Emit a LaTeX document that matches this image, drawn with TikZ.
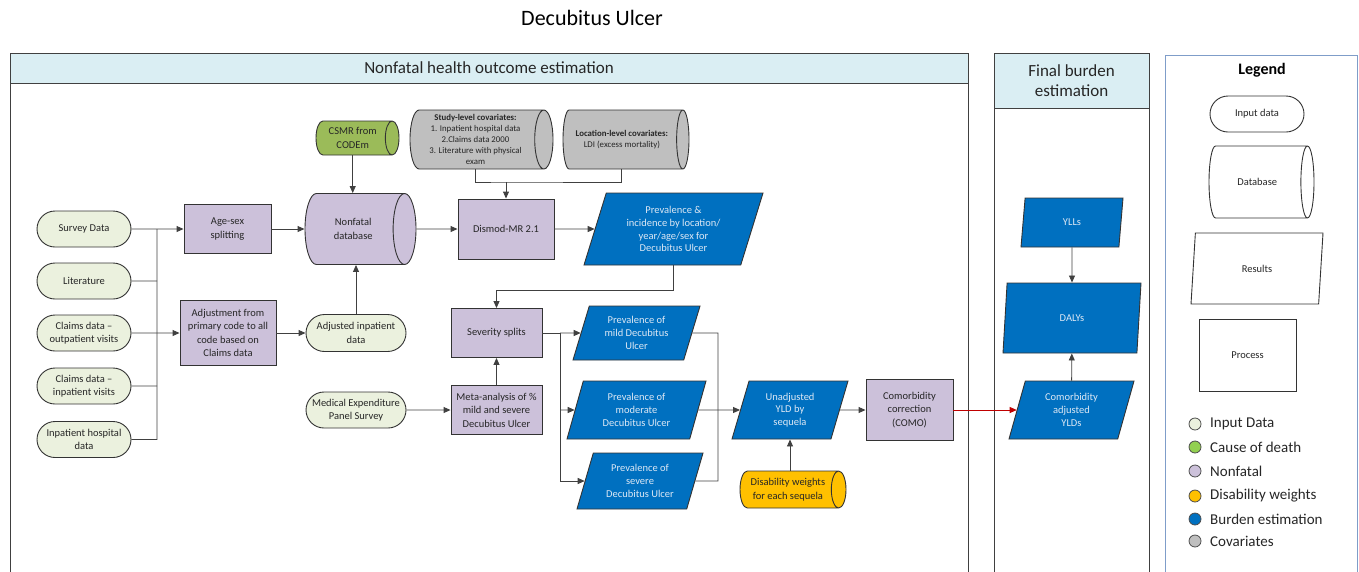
\documentclass[tikz,border=0pt]{standalone}
\usepackage{fontspec}
\setmainfont{Carlito}
\usepackage{tikz}
\usetikzlibrary{shapes.geometric,shapes.misc,arrows.meta}

\definecolor{inputgreen}{HTML}{EBF1DE}
\definecolor{codgreen}{HTML}{9BBB59}
\definecolor{deathgreen}{HTML}{92D050}
\definecolor{nonfatal}{HTML}{CCC1DA}
\definecolor{dwyellow}{HTML}{FFC000}
\definecolor{burdenblue}{HTML}{0070C0}
\definecolor{covgray}{HTML}{BFBFBF}
\definecolor{headerblue}{HTML}{DAEEF3}
\definecolor{legendframe}{HTML}{7F9DC9}
\definecolor{bluetext}{HTML}{DDE8F5}
\definecolor{inktext}{HTML}{262626}
\definecolor{comored}{HTML}{C00000}

\tikzset{
  box/.style={font=\fontsize{10.5}{13.5}\selectfont, text=inktext, align=center, draw=black!80, line width=0.9pt, inner sep=1pt},
  inputdata/.style={box, rounded rectangle, fill=inputgreen, minimum width=96pt, minimum height=36pt},
  process/.style={box, rectangle, fill=nonfatal},
  database/.style={box, cylinder, shape aspect=0.6, anchor=shape center},
  result/.style={box, trapezium, trapezium left angle=65, trapezium right angle=115, trapezium stretches body, fill=burdenblue, text=bluetext, font=\fontsize{10.5}{12.8}\selectfont},
  conn/.style={draw=black!75, line width=0.9pt},
  arr/.style={conn, -{Triangle[length=7pt,width=6pt]}},
  legdot/.style={circle, draw=black!70, line width=0.8pt, minimum size=12pt, inner sep=0pt},
  legtext/.style={anchor=west, font=\fontsize{15}{18}\selectfont, text=inktext, inner sep=0pt},
  panel/.style={draw=black!75, line width=1pt}
}

\begin{document}
\begin{tikzpicture}[x=1pt, y=-1pt]
\useasboundingbox (0,0) rectangle (1359,571);

% Title
\node[font=\fontsize{22}{26}\selectfont, text=black] (title) at (592,18) {Decubitus Ulcer};

% Panels
\draw[panel] (10,53) rectangle (968,590);
\draw[panel, fill=headerblue] (10,53) rectangle (968,83);
\node[font=\fontsize{17}{20}\selectfont, text=inktext] (nfhead) at (489,68) {Nonfatal health outcome estimation};
\draw[panel] (994,53) rectangle (1149,590);
\draw[panel, fill=headerblue] (994,53) rectangle (1149,108);
\node[font=\fontsize{17}{19.5}\selectfont, text=inktext, align=center] (fbhead) at (1071.5,80.5) {Final burden\\estimation};
\draw[legendframe, line width=1pt] (1165,55) rectangle (1357.5,590);
\node[font=\fontsize{16}{19}\selectfont\bfseries, text=black] (leghead) at (1262,70) {Legend};

% Input data
\node[inputdata] (survey) at (84,229) {Survey Data};
\node[inputdata] (lit) at (84,281) {Literature};
\node[inputdata] (claimsout) at (84,333) {Claims data --\\outpatient visits};
\node[inputdata] (claimsin) at (84,386) {Claims data --\\inpatient visits};
\node[inputdata] (inhosp) at (84,439.5) {Inpatient hospital\\data};

% Processing of inputs
\node[process, minimum width=87pt, minimum height=49pt] (agesex) at (227.5,229) {Age-sex\\splitting};
\node[process, minimum width=96pt, minimum height=65pt] (adjust) at (228,333) {Adjustment from\\primary code to all\\code based on\\Claims data};
\node[inputdata, minimum width=102pt, minimum height=37pt] (adjinp) at (356,333) {Adjusted inpatient\\data};
\node[inputdata, minimum width=102pt] (meps) at (356,410) {Medical Expenditure\\Panel Survey};

% Databases and covariates (cylinder: height is along the axis)
\node[database, fill=codgreen, minimum height=83pt, minimum width=34pt] (csmr) at (357.5,138) {CSMR from\\CODEm};
\node[database, fill=nonfatal, minimum height=111pt, minimum width=71pt, shape aspect=1] (nfdb) at (360.5,229) {Nonfatal\\database};
\node[database, fill=covgray, minimum height=143pt, minimum width=59pt, shape aspect=0.35, font=\fontsize{8.8}{11}\selectfont] (study) at (481.5,139.5) {\textbf{Study-level covariates:}\\1. Inpatient hospital data\\2.Claims data 2000\\3. Literature with physical\\exam};
\node[database, fill=covgray, minimum height=126pt, minimum width=59pt, font=\fontsize{8.8}{11}\selectfont] (loc) at (626,139.5) {\textbf{Location-level covariates:}\\LDI (excess mortality)};

% Modelling
\node[process, minimum width=96pt, minimum height=60pt] (dismod) at (506,229) {Dismod-MR 2.1};
\node[result, minimum width=179pt, minimum height=72pt] (previnc) at (673.5,229) {Prevalence \&\\incidence by location/\\year/age/sex for\\Decubitus Ulcer};
\node[process, minimum width=91pt, minimum height=49pt] (sev) at (496.5,333) {Severity splits};
\node[process, minimum width=91pt, minimum height=49pt] (meta) at (496.5,410) {Meta-analysis of \%\\mild and severe\\Decubitus Ulcer};

% Severity results
\node[result, minimum width=127pt, minimum height=54pt] (mild) at (636.5,333) {Prevalence of\\mild Decubitus\\Ulcer};
\node[result, minimum width=139pt, minimum height=58pt] (moderate) at (636.5,410) {Prevalence of\\moderate\\Decubitus Ulcer};
\node[result, minimum width=126pt, minimum height=56pt] (severe) at (640,481) {Prevalence of\\severe\\Decubitus Ulcer};
\node[result, minimum width=116pt, minimum height=58pt] (unadj) at (790,410) {Unadjusted\\YLD by\\sequela};
\node[database, fill=dwyellow, minimum height=106pt, minimum width=37pt] (dw) at (793,489.5) {Disability weights\\for each sequela};
\node[process, minimum width=87pt, minimum height=61pt] (como) at (909.5,410) {Comorbidity\\correction\\(COMO)};

% Final burden
\node[result, minimum width=102pt, minimum height=49pt] (ylls) at (1072,222.5) {YLLs};
\node[result, minimum width=138pt, minimum height=70pt] (dalys) at (1072,318) {DALYs};
\node[result, minimum width=125pt, minimum height=58pt] (comoyld) at (1071.5,410) {Comorbidity\\adjusted\\YLDs};

% Legend shapes
\node[inputdata, fill=white] (leginput) at (1257,114) {Input data};
\node[database, fill=white, minimum height=105pt, minimum width=72pt, shape aspect=1.4] (legdb) at (1261.5,182) {Database};
\node[result, fill=white, text=inktext, minimum width=132pt, minimum height=71pt] (legres) at (1257,268.5) {Results};
\node[process, fill=white, minimum width=97pt, minimum height=72pt] (legproc) at (1247.5,355) {Process};

% Legend colours
\node[legdot, fill=inputgreen] (dotinput) at (1195,424) {};
\node[legtext] (txtinput) at (1210,424) {Input Data};
\node[legdot, fill=deathgreen] (dotdeath) at (1195,447) {};
\node[legtext] (txtdeath) at (1210,447) {Cause of death};
\node[legdot, fill=nonfatal] (dotnf) at (1195,471) {};
\node[legtext] (txtnf) at (1210,471) {Nonfatal};
\node[legdot, fill=dwyellow] (dotdw) at (1195,496) {};
\node[legtext] (txtdw) at (1210,496) {Disability weights};
\node[legdot, fill=burdenblue] (dotburden) at (1195,519) {};
\node[legtext] (txtburden) at (1210,519) {Burden estimation};
\node[legdot, fill=covgray] (dotcov) at (1195,541) {};
\node[legtext] (txtcov) at (1210,541) {Covariates};

% Input bus
\coordinate (bustop) at (157,229);
\coordinate (busbot) at (157,439.5);
\draw[conn] (inhosp) -- (busbot) -- (bustop);
\draw[conn] (lit) -- (lit -| bustop);
\draw[conn] (claimsin) -- (claimsin -| bustop);
\draw[arr] (survey) -- (agesex);
\draw[arr] (claimsout) -- (adjust);

% Into the database
\draw[arr] (agesex) -- (nfdb);
\draw[arr] (adjust) -- (adjinp);
\draw[arr] (csmr.south) -- (csmr.south |- nfdb.north);
\draw[arr] (adjinp.north) -- (adjinp.north |- nfdb.south);

% Covariates to Dismod
\coordinate (covjoin) at (506,182);
\draw[conn] (study.south) |- (covjoin) -| (loc.south);
\draw[arr] (covjoin) -- (dismod);
\draw[arr] (nfdb) -- (dismod);
\draw[arr] (dismod) -- (previnc);

% Severity splits
\coordinate (sevjoin) at (496.5,290);
\draw[arr] (previnc.south) |- (sevjoin) -- (sev.north);
\draw[arr] (meps) -- (meta);
\draw[arr] (meta) -- (sev);
\coordinate (splittop) at (560,333);
\coordinate (splitbot) at (560,481);
\draw[conn] (sev) -- (splittop) -- (splitbot);
\draw[arr] (splittop) -- (mild);
\draw[arr] (splittop |- moderate) -- (moderate);
\draw[arr] (splitbot) -- (severe);

% Merge to YLDs
\coordinate (mergetop) at (718,333);
\coordinate (mergebot) at (718,481);
\draw[conn] (mild) -- (mergetop) -- (mergebot) -- (severe);
\draw[arr] (moderate) -- (unadj);
\draw[arr] (dw.north -| unadj.south) -- (unadj.south);
\draw[arr] (unadj) -- (como);
\draw[arr, draw=comored, line width=0.8pt] (como) -- (comoyld);

% Final burden
\draw[arr] (ylls) -- (dalys);
\draw[arr] (comoyld) -- (dalys);
\end{tikzpicture}
\end{document}
